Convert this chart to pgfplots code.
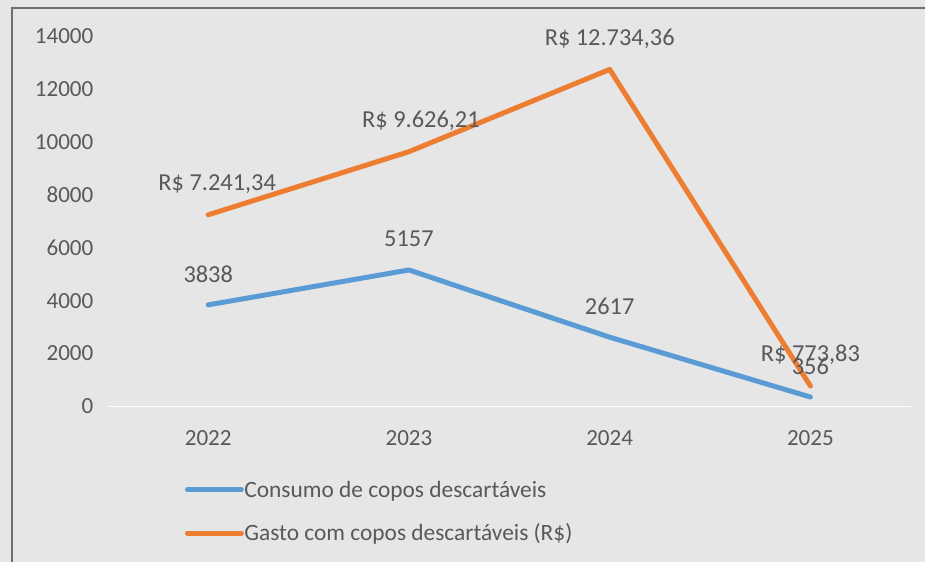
\documentclass[border=0pt]{standalone}
\usepackage{pgfplots}
\pgfplotsset{compat=1.18}
\usepackage{fontspec}
\setmainfont{Carlito}
\definecolor{bgGray}{HTML}{E6E6E6}
\definecolor{frameGray}{HTML}{6E6E6E}
\definecolor{txtGray}{HTML}{595959}
\definecolor{xlBlue}{HTML}{5B9BD5}
\definecolor{xlOrange}{HTML}{ED7D31}

\begin{document}
\begin{tikzpicture}
% background and frame (1px = 1bp)
\fill[bgGray] (-108bp,-156bp) rectangle (818bp,407bp);
\draw[frameGray, line width=2.5bp] (-96bp,-156bp) -- (-96bp,399bp) -- (818bp,399bp);
\useasboundingbox (-108bp,-156bp) rectangle (818bp,407bp);
\begin{axis}[
  at={(0,0)}, anchor=south west,
  scale only axis,
  width=804bp, height=371bp,
  xmin=-0.5, xmax=3.5,
  ymin=0, ymax=14000,
  xtick={0,1,2,3},
  xticklabels={2022,2023,2024,2025},
  ytick={0,2000,4000,6000,8000,10000,12000,14000},
  axis line style={draw=none},
  tick style={draw=none},
  ticklabel style={font=\fontsize{23.2}{27}\selectfont, text=txtGray},
  yticklabel style={xshift=-11bp},
  xticklabel style={yshift=-21bp},
  /pgf/number format/assume math mode=true,
  /pgf/number format/set thousands separator={},
  scaled y ticks=false,
  clip=false,
  legend cell align=left,
  legend image code/.code={\draw[#1] (0bp,0bp) -- (54bp,0bp);},
  legend style={draw=none, fill=none, at={(77bp,-74bp)}, anchor=north west,
    font=\fontsize{23.5}{27}\selectfont, text=txtGray, inner sep=0pt,
    row sep=24bp, nodes={inner sep=0.5bp}},
]
\draw[white, line width=1.2bp] (axis cs:-0.5,0) -- (axis cs:3.5,0);
\addplot[xlBlue, line width=5bp, line join=round, line cap=round] coordinates {
  (0,3838) (1,5157) (2,2617) (3,356)
};
\addlegendentry{Consumo de copos descartáveis}
\addplot[xlOrange, line width=5bp, line join=round, line cap=round] coordinates {
  (0,7241.34) (1,9626.21) (2,12734.36) (3,773.83)
};
\addlegendentry{Gasto com copos descartáveis (R\$)}

\tikzset{lbl/.style={font=\fontsize{24.5}{28}\selectfont, text=txtGray, anchor=center, yshift=31bp}}
\node[lbl] at (axis cs:0,3838) {3838};
\node[lbl] at (axis cs:1,5157) {5157};
\node[lbl] at (axis cs:2,2617) {2617};
\node[lbl] at (axis cs:3,356) {356};
\node[lbl, xshift=9bp] at (axis cs:0,7241.34) {R\$ 7.241,34};
\node[lbl, xshift=12bp] at (axis cs:1,9626.21) {R\$ 9.626,21};
\node[lbl] at (axis cs:2,12734.36) {R\$ 12.734,36};
\node[lbl] at (axis cs:3,773.83) {R\$ 773,83};
\end{axis}
\end{tikzpicture}
\end{document}
